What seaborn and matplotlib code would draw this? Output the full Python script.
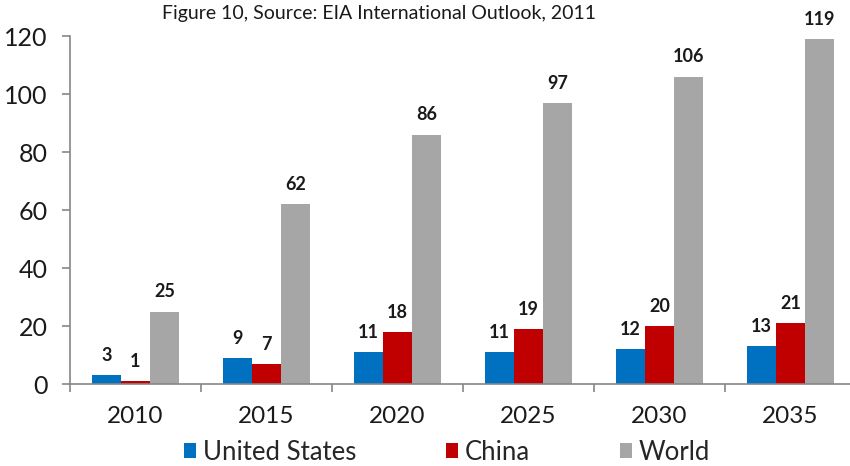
import numpy as np
import pandas as pd
import matplotlib
matplotlib.use("Agg")
import matplotlib.pyplot as plt
import seaborn as sns

# Projected values by year and region
years = ["2010", "2015", "2020", "2025", "2030", "2035"]
series_names = ["United States", "China", "World"]
united_states = [3, 9, 11, 11, 12, 13]
china = [1, 7, 18, 19, 20, 21]
world = [25, 62, 86, 97, 106, 119]
y_ticks = [0, 20, 40, 60, 80, 100, 120]
title_text = "Figure 10, Source: EIA International Outlook, 2011"

colors = ["#0070C0", "#C00000", "#A6A6A6"]
axis_gray = "#868686"

df = pd.DataFrame({
    "year": years * 3,
    "value": united_states + china + world,
    "series": [series_names[0]] * 6 + [series_names[1]] * 6 + [series_names[2]] * 6,
})

sns.set_theme(style="ticks")
plt.rcParams["font.family"] = ["Lato", "DejaVu Sans"]

fig = plt.figure(figsize=(8.5, 4.66), dpi=100)
ax = fig.add_axes([70 / 850, 82 / 466, 786 / 850, 348 / 466])

sns.barplot(
    data=df, x="year", y="value", hue="series", order=years,
    hue_order=series_names, palette=colors, saturation=1,
    width=0.66, gap=0, linewidth=0, ax=ax, legend=True,
)

# Value labels above each bar
for cont in ax.containers:
    ax.bar_label(cont, padding=8, fontsize=13, fontweight="bold",
                 color="#1a1a1a", clip_on=False)

ax.set_xlim(-0.5, len(years) - 0.5)
ax.set_ylim(0, 120)
ax.set_yticks(y_ticks)
ax.set_xlabel("")
ax.set_ylabel("")

# Category labels at group centres, tick marks at group boundaries
ax.set_xticks(range(len(years)))
ax.set_xticklabels(years)
ax.set_xticks(np.arange(-0.5, len(years), 1.0), minor=True)
ax.tick_params(axis="x", which="major", length=0, pad=16, labelsize=17.5, labelcolor="#1a1a1a")
ax.tick_params(axis="x", which="minor", length=6, width=1.2, color=axis_gray, direction="out")
ax.tick_params(axis="y", length=6, width=1.2, color=axis_gray, pad=10, labelsize=18, labelcolor="#1a1a1a")

for side in ["top", "right"]:
    ax.spines[side].set_visible(False)
for side in ["left", "bottom"]:
    ax.spines[side].set_color(axis_gray)
    ax.spines[side].set_linewidth(1.2)

handles, labels = ax.get_legend_handles_labels()
ax.legend_.remove()
fig.legend(handles, labels, loc="center", bbox_to_anchor=(447 / 850, 1 - 452 / 466),
           ncol=3, frameon=False, fontsize=18.5, handlelength=0.48, handleheight=0.48,
           handletextpad=0.25, columnspacing=3.5, borderaxespad=0, borderpad=0)

fig.text(379 / 850, 1 - 13 / 466, title_text, ha="center", va="center",
         fontsize=14, color="#1a1a1a")

fig.savefig("out.png", dpi=100)
